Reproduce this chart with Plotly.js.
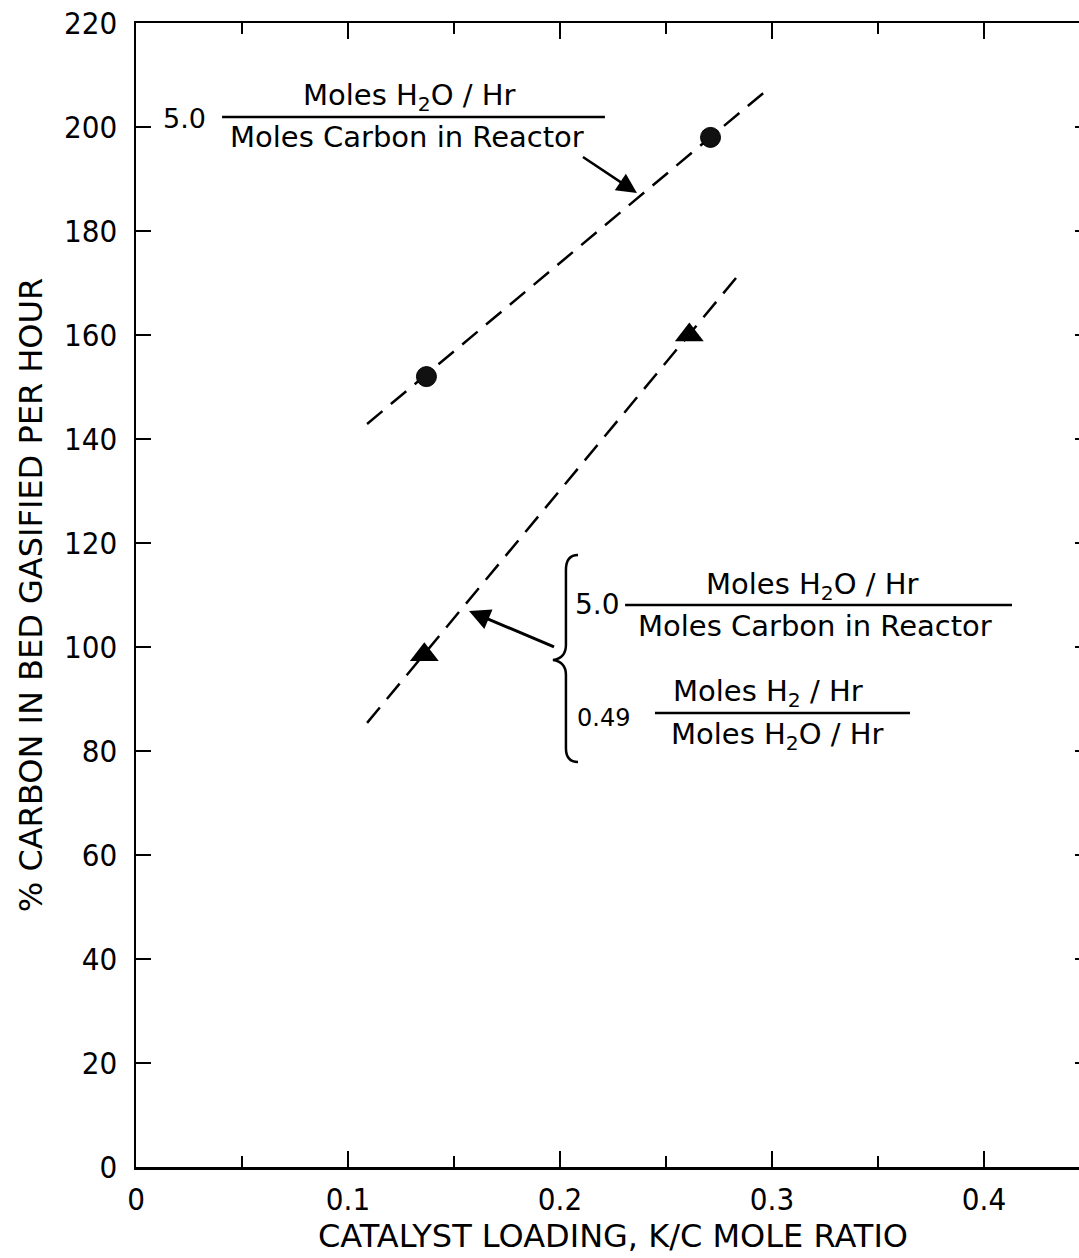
<!DOCTYPE html>
<html>
<head>
<meta charset="utf-8">
<script src="https://cdn.plot.ly/plotly-3.0.1.min.js"></script>
<style>
  html, body { margin: 0; padding: 0; background: #fff; overflow: hidden; }
  #chart { width: 1100px; height: 1258px; }
</style>
</head>
<body>
<div id="chart"></div>
<script>
// ---- data ----
const xTickVals = [0, 0.1, 0.2, 0.3, 0.4];
const xTickText = ["0", "0.1", "0.2", "0.3", "0.4"];
const yTickVals = [0, 20, 40, 60, 80, 100, 120, 140, 160, 180, 200, 220];

// circles: 5.0 moles H2O/hr per mole carbon
const circleX = [0.137, 0.271];
const circleY = [152, 198];
// triangles: 5.0 moles H2O/hr per mole carbon, 0.49 H2/H2O
const triX = [0.136, 0.261];
const triY = [98.5, 160];
// dashed trend lines
const upperLineX = [0.109, 0.297];
const upperLineY = [142.9, 206.9];
const lowerLineX = [0.109, 0.2835];
const lowerLineY = [85.4, 171.2];

const xTitle = "CATALYST LOADING, K/C MOLE RATIO";
const yTitle = "% CARBON IN BED GASIFIED PER HOUR";

const numH2O = "Moles H<sub>2</sub>O / Hr";
const denCarbon = "Moles Carbon in Reactor";
const numH2 = "Moles H<sub>2</sub> / Hr";

const narrow = "DejaVu Sans Condensed, Liberation Sans Narrow, sans-serif";
const sans = "DejaVu Sans, Verdana, sans-serif";

const traces = [
  { x: upperLineX, y: upperLineY, mode: "lines", line: { color: "#000", width: 2.5, dash: "20px,11px" }, hoverinfo: "skip" },
  { x: lowerLineX, y: lowerLineY, mode: "lines", line: { color: "#000", width: 2.5, dash: "20px,11px" }, hoverinfo: "skip" },
  { x: circleX, y: circleY, mode: "markers", marker: { symbol: "circle", size: 20, color: "#111", line: { color: "#000", width: 1 } } },
  { x: triX, y: triY, mode: "markers", marker: { symbol: "triangle-up", size: 25, color: "#000" } }
];

function txt(x, y, text, size, fam) {
  return { x: x, y: y, xref: "x", yref: "y", text: text, showarrow: false,
           font: { family: fam || sans, size: size || 29, color: "#000" },
           xanchor: "center", yanchor: "middle" };
}

const annotations = [
  // upper label
  txt(0.0231, 201.7, "5.0", 27),
  txt(0.129, 205.8, numH2O, 29),
  txt(0.1278, 198.1, denCarbon, 29),
  { x: 0.2363, y: 187.3, xref: "x", yref: "y", ax: -57, ay: -38, text: " ", showarrow: true,
    arrowhead: 2, arrowsize: 1.6, arrowwidth: 2.5, arrowcolor: "#000" },
  // lower label
  txt(0.2175, 108.1, "5.0", 28),
  txt(0.3193, 111.7, numH2O, 29),
  txt(0.3203, 104.0, denCarbon, 29),
  txt(0.2203, 86.3, "0.49", 24),
  txt(0.2981, 91.2, numH2, 29),
  txt(0.3024, 82.9, numH2O, 29),
  { x: 0.1571, y: 106.9, xref: "x", yref: "y", ax: 88, ay: 37, text: " ", showarrow: true,
    arrowhead: 2, arrowsize: 1.4, arrowwidth: 3, arrowcolor: "#000" }
];

const shapes = [
  // fraction bars
  { type: "line", xref: "x", yref: "y", x0: 0.0406, x1: 0.2212, y0: 201.9, y1: 201.9, line: { color: "#000", width: 2.5 } },
  { type: "line", xref: "x", yref: "y", x0: 0.2307, x1: 0.4132, y0: 108.1, y1: 108.1, line: { color: "#000", width: 2.5 } },
  { type: "line", xref: "x", yref: "y", x0: 0.2448, x1: 0.3651, y0: 87.3, y1: 87.3, line: { color: "#000", width: 2.5 } },
  // brace
  { type: "path", xref: "x", yref: "y",
    path: "M 0.2085 117.69 Q 0.2028 117.69 0.2028 114.81 L 0.2028 100.38 Q 0.2028 97.88 0.1967 97.5 Q 0.2028 97.12 0.2028 94.62 L 0.2028 80.58 Q 0.2028 77.88 0.2085 77.88",
    line: { color: "#000", width: 2.5 } }
];

const layout = {
  width: 1100, height: 1258,
  margin: { l: 136, r: 10, t: 23, b: 91 },
  paper_bgcolor: "#fff", plot_bgcolor: "#fff",
  showlegend: false,
  xaxis: {
    range: [0, 0.45], tickvals: xTickVals, ticktext: xTickText,
    ticks: "inside", ticklen: 16, tickwidth: 2.5, tickcolor: "#000",
    showline: true, linewidth: 2.5, linecolor: "#000", mirror: "ticks",
    showgrid: false, zeroline: false,
    minor: { dtick: 0.05, tick0: 0, ticks: "inside", ticklen: 11, tickwidth: 2, tickcolor: "#000", showgrid: false },
    tickfont: { family: narrow, size: 31, color: "#000" },
    ticklabelstandoff: 3,
    title: { text: xTitle, font: { family: sans, size: 32, color: "#000" }, standoff: 6 }
  },
  yaxis: {
    range: [0, 220], tickvals: yTickVals,
    ticks: "inside", ticklen: 15, tickwidth: 2.5, tickcolor: "#000",
    showline: true, linewidth: 2.5, linecolor: "#000", mirror: "ticks",
    showgrid: false, zeroline: false,
    tickfont: { family: narrow, size: 31, color: "#000" },
    ticklabelstandoff: 10,
    title: { text: yTitle, font: { family: sans, size: 32, color: "#000" }, standoff: 12 }
  },
  annotations: annotations,
  shapes: shapes
};

Plotly.newPlot("chart", traces, layout, { staticPlot: true, displayModeBar: false });
</script>
</body>
</html>
